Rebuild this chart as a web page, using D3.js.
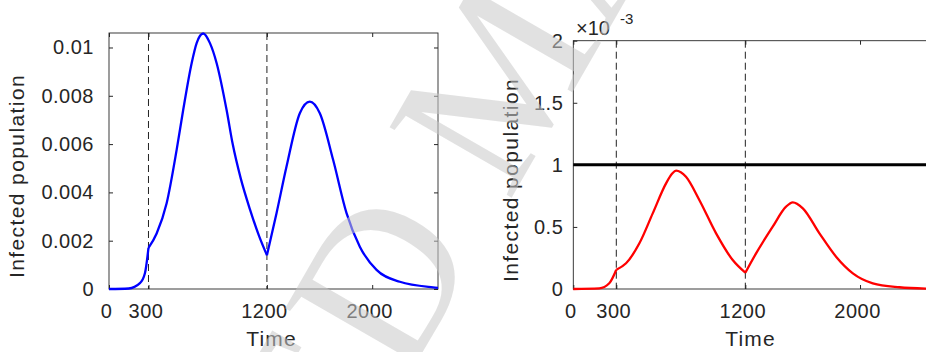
<!DOCTYPE html>
<html>
<head>
<meta charset="utf-8">
<script src="https://cdn.jsdelivr.net/npm/d3@7"></script>
<style>
  html, body { margin: 0; padding: 0; background: #ffffff; }
  svg { display: block; }
  text { font-family: "Liberation Sans", Arial, sans-serif; }
</style>
</head>
<body>
<svg></svg>
<script>
//--Data
//Shared x ticks and the two switching times
var xTicks = [0, 300, 1200, 2000];
var switchTimes = [300, 1200];

//Left panel: infected population (blue)
var blueTimes = [0, 150, 235, 273, 300, 362, 438, 514, 564, 628, 666, 716, 767, 818, 894, 940, 1000, 1071, 1140, 1200,
  1273, 1349, 1450, 1526, 1602, 1703, 1805, 1906, 2033, 2210, 2462, 2500];
var blueValues = [0, 0.00002, 0.00024, 0.00065, 0.0017, 0.0023, 0.00355, 0.00576, 0.00742, 0.00935, 0.01018, 0.01058,
  0.01018, 0.00935, 0.0074, 0.006, 0.0046, 0.0033, 0.0022, 0.0014,
  0.00314, 0.00507, 0.00728, 0.00776, 0.00728, 0.00535, 0.00314, 0.00175, 0.00079, 0.0003, 0.00007, 0.00005];
var blueTicks = [0, 0.002, 0.004, 0.006, 0.008, 0.01];

//Right panel: infected population (red), in units of 1e-3, and the threshold line
var redTimes = [0, 181, 251, 300, 368, 461, 554, 647, 690, 717, 750, 786, 879, 996, 1112, 1200,
  1275, 1391, 1484, 1531, 1601, 1717, 1833, 1950, 2089, 2275, 2461, 2500];
var redValues = [0, 0.005, 0.046, 0.155, 0.207, 0.368, 0.609, 0.851, 0.93, 0.953, 0.94, 0.904, 0.717, 0.448, 0.233, 0.131,
  0.287, 0.502, 0.663, 0.698, 0.65, 0.448, 0.26, 0.126, 0.046, 0.014, 0.003, 0.002];
var redTicks = [0, 0.5, 1, 1.5, 2];
var threshold = 1;

//--Canvas
var canvas = {
  width: 926,
  height: 352,
  ink: "#262626",
  font: 20
};

var root = d3.select("svg")
  .attr("width", canvas.width)
  .attr("height", canvas.height);

//--One panel
function panel(opt) {
  var x = d3.scaleLinear().domain([0, 2500]).range([opt.left, opt.right]);
  var y = d3.scaleLinear().domain(opt.yDomain).range([opt.bottom, opt.top]);
  var g = root.append("g");

  //Box
  g.append("rect")
    .attr("x", opt.left)
    .attr("y", opt.top)
    .attr("width", opt.right - opt.left)
    .attr("height", opt.bottom - opt.top)
    .attr("fill", "none")
    .attr("stroke", canvas.ink)
    .attr("stroke-width", 0.9);

  //Axes, ticks pointing in
  var bottomAxis = g.append("g")
    .attr("transform", "translate(0," + opt.bottom + ")")
    .call(d3.axisBottom(x).tickValues(xTicks).tickFormat(d3.format("d")).tickSizeInner(-4).tickSizeOuter(0).tickPadding(15));
  bottomAxis.selectAll("text").attr("dx", -3);
  g.append("g")
    .attr("transform", "translate(0," + opt.top + ")")
    .call(d3.axisTop(x).tickValues(xTicks).tickFormat("").tickSizeInner(-4).tickSizeOuter(0));
  g.append("g")
    .attr("transform", "translate(" + opt.left + ",0)")
    .call(d3.axisLeft(y).tickValues(opt.yTicks).tickFormat(opt.yFormat).tickSizeInner(-4).tickSizeOuter(0).tickPadding(opt.yPad));
  g.append("g")
    .attr("transform", "translate(" + opt.right + ",0)")
    .call(d3.axisRight(y).tickValues(opt.yTicks).tickFormat("").tickSizeInner(-4).tickSizeOuter(0));
  g.selectAll(".domain").remove();
  g.selectAll(".tick line").attr("stroke", canvas.ink);
  g.selectAll(".tick text")
    .attr("fill", canvas.ink)
    .style("font-family", "Liberation Sans, Arial, sans-serif")
    .style("font-size", canvas.font + "px")
    .style("letter-spacing", "0.5px");

  //Switching times
  g.selectAll(".switch")
    .data(switchTimes)
    .enter()
    .append("line")
    .attr("x1", d => x(d))
    .attr("x2", d => x(d))
    .attr("y1", opt.top)
    .attr("y2", opt.bottom)
    .attr("stroke", "#222")
    .attr("stroke-width", 1)
    .attr("stroke-dasharray", "7,4");

  //Curve, drawn piecewise so the kinks at the switching times stay sharp
  var pts = opt.times.map((t, i) => [t, opt.values[i]]);
  var cuts = [0].concat(switchTimes, [2500]);
  var line = d3.line()
    .x(d => x(d[0]))
    .y(d => y(d[1]))
    .curve(d3.curveMonotoneX);
  for (var k = 0; k < cuts.length - 1; k++) {
    var seg = pts.filter(d => d[0] >= cuts[k] && d[0] <= cuts[k + 1]);
    g.append("path")
      .attr("d", line(seg))
      .attr("fill", "none")
      .attr("stroke", opt.color)
      .attr("stroke-width", 2.3)
      .attr("stroke-linejoin", "round");
  }

  //Labels
  g.append("text")
    .attr("x", (opt.left + opt.right) / 2 - 2)
    .attr("y", 346)
    .attr("text-anchor", "middle")
    .attr("fill", canvas.ink)
    .style("font-size", "21px")
    .style("letter-spacing", "1.2px")
    .text("Time");
  g.append("text")
    .attr("transform", "translate(" + opt.yLabelX + "," + opt.yLabelY + ") rotate(-90)")
    .attr("text-anchor", "middle")
    .attr("fill", canvas.ink)
    .style("font-size", "21px")
    .style("letter-spacing", "1.4px")
    .text("Infected population");

  return { g: g, x: x, y: y };
}

var left = panel({
  left: 109, right: 438, top: 33, bottom: 289,
  yDomain: [0, 0.0106], yTicks: blueTicks, yFormat: d => d === 0 ? "0" : d3.format("")(+d.toFixed(3)),
  yPad: 15, yLabelX: 24, yLabelY: 176,
  times: blueTimes, values: blueValues, color: "#0000ff"
});

var right = panel({
  left: 573.3, right: 931.7, top: 40.7, bottom: 289,
  yDomain: [0, 2], yTicks: redTicks, yFormat: d3.format(""),
  yPad: 10, yLabelX: 518, yLabelY: 180,
  times: redTimes, values: redValues, color: "#ff0000"
});

//Threshold line
right.g.append("line")
  .attr("x1", right.x(0))
  .attr("x2", right.x(2500))
  .attr("y1", right.y(threshold))
  .attr("y2", right.y(threshold))
  .attr("stroke", "#000")
  .attr("stroke-width", 3);

//Exponent
var expo = root.append("text")
  .attr("x", 576)
  .attr("y", 35)
  .attr("fill", canvas.ink)
  .style("font-size", "20px");
expo.append("tspan").text("\u00d710");
expo.append("tspan")
  .attr("x", 620)
  .attr("y", 24)
  .style("font-size", "15px")
  .text("-3");

//--Watermark on top
var mark = root.append("g")
  .attr("transform", "translate(404,384) rotate(-60)")
  .style("pointer-events", "none");
mark.append("text")
  .attr("text-anchor", "end")
  .style("font-family", "Liberation Serif, Times New Roman, serif")
  .style("font-size", "215px")
  .style("fill", "#c8c8c8")
  .style("fill-opacity", 0.55)
  .text("ACCEPTE");
mark.append("text")
  .attr("text-anchor", "start")
  .style("font-family", "Liberation Serif, Times New Roman, serif")
  .style("font-size", "215px")
  .style("fill", "#c8c8c8")
  .style("fill-opacity", 0.55)
  .text("D MANUSCRIPT");
</script>
</body>
</html>
